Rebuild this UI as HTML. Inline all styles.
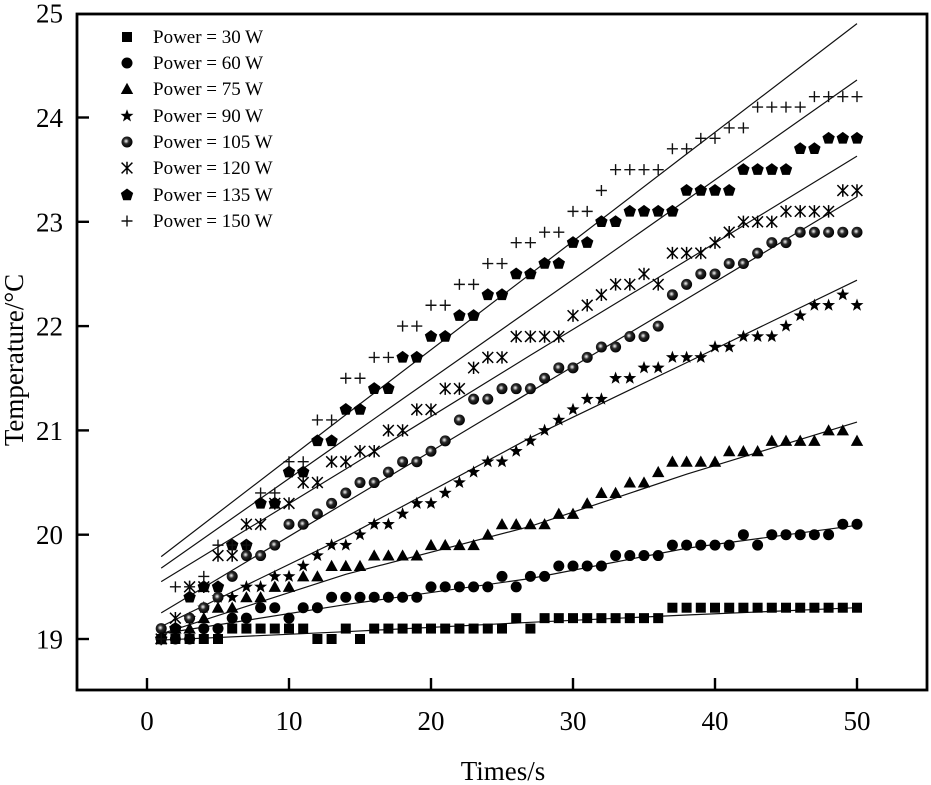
<!DOCTYPE html>
<html lang="en">
<head>
<meta charset="utf-8">
<title>Temperature vs Time</title>
<style>
html,body{margin:0;padding:0;background:#fff;width:931px;height:785px;overflow:hidden}
svg{display:block;filter:blur(0.35px)}
text{font-family:"Liberation Serif","Times New Roman",serif;fill:#000}
</style>
</head>
<body>
<svg id="chart" xmlns="http://www.w3.org/2000/svg" width="931" height="785" viewBox="0 0 931 785">
<defs>
<radialGradient id="ball" cx="42%" cy="42%" r="58%" fx="42%" fy="42%">
<stop offset="0%" stop-color="#f4f4f4"/>
<stop offset="18%" stop-color="#a8a8a8"/>
<stop offset="42%" stop-color="#2a2a2a"/>
<stop offset="100%" stop-color="#000"/>
</radialGradient>
</defs>
</svg>
<script>
const times = [1,2,3,4,5,6,7,8,9,10,11,12,13,14,15,16,17,18,19,20,21,22,23,24,25,26,27,28,29,30,31,32,33,34,35,36,37,38,39,40,41,42,43,44,45,46,47,48,49,50];
const seriesLabels = ["Power = 30 W","Power = 60 W","Power = 75 W","Power = 90 W","Power = 105 W","Power = 120 W","Power = 135 W","Power = 150 W"];
const seriesShapes = ["square","circle","triangle","star","ball","asterisk","pentagon","plus"];
const power30 = [19,19,19,19,19,19.1,19.1,19.1,19.1,19.1,19.1,19,19,19.1,19,19.1,19.1,19.1,19.1,19.1,19.1,19.1,19.1,19.1,19.1,19.2,19.1,19.2,19.2,19.2,19.2,19.2,19.2,19.2,19.2,19.2,19.3,19.3,19.3,19.3,19.3,19.3,19.3,19.3,19.3,19.3,19.3,19.3,19.3,19.3];
const power60 = [19,19,19,19.1,19.1,19.2,19.2,19.3,19.3,19.2,19.3,19.3,19.4,19.4,19.4,19.4,19.4,19.4,19.4,19.5,19.5,19.5,19.5,19.5,19.6,19.5,19.6,19.6,19.7,19.7,19.7,19.7,19.8,19.8,19.8,19.8,19.9,19.9,19.9,19.9,19.9,20,19.9,20,20,20,20,20,20.1,20.1];
const power75 = [19,19.1,19.1,19.2,19.3,19.3,19.4,19.4,19.5,19.5,19.6,19.6,19.7,19.7,19.7,19.8,19.8,19.8,19.8,19.9,19.9,19.9,19.9,20,20.1,20.1,20.1,20.1,20.2,20.2,20.3,20.4,20.4,20.5,20.5,20.6,20.7,20.7,20.7,20.7,20.8,20.8,20.8,20.9,20.9,20.9,20.9,21,21,20.9];
const power90 = [19,19.1,19.2,19.3,19.4,19.4,19.5,19.5,19.6,19.6,19.7,19.8,19.9,19.9,20,20.1,20.1,20.2,20.3,20.3,20.4,20.5,20.6,20.7,20.7,20.8,20.9,21,21.1,21.2,21.3,21.3,21.5,21.5,21.6,21.6,21.7,21.7,21.7,21.8,21.8,21.9,21.9,21.9,22,22.1,22.2,22.2,22.3,22.2];
const power105 = [19.1,19.1,19.2,19.3,19.4,19.6,19.8,19.8,19.9,20.1,20.1,20.2,20.3,20.4,20.5,20.5,20.6,20.7,20.7,20.8,20.9,21.1,21.3,21.3,21.4,21.4,21.4,21.5,21.6,21.6,21.7,21.8,21.8,21.9,21.9,22,22.3,22.4,22.5,22.5,22.6,22.6,22.7,22.8,22.8,22.9,22.9,22.9,22.9,22.9];
const power120 = [19,19.2,19.5,19.5,19.8,19.8,20.1,20.1,20.3,20.3,20.5,20.5,20.7,20.7,20.8,20.8,21,21,21.2,21.2,21.4,21.4,21.6,21.7,21.7,21.9,21.9,21.9,21.9,22.1,22.2,22.3,22.4,22.4,22.5,22.4,22.7,22.7,22.7,22.8,22.9,23,23,23,23.1,23.1,23.1,23.1,23.3,23.3];
const power135 = [19,19.1,19.4,19.5,19.5,19.9,19.9,20.3,20.3,20.6,20.6,20.9,20.9,21.2,21.2,21.4,21.4,21.7,21.7,21.9,21.9,22.1,22.1,22.3,22.3,22.5,22.5,22.6,22.6,22.8,22.8,23,23,23.1,23.1,23.1,23.1,23.3,23.3,23.3,23.3,23.5,23.5,23.5,23.5,23.7,23.7,23.8,23.8,23.8];
const power150 = [19,19.5,19.5,19.6,19.9,19.9,19.9,20.4,20.4,20.7,20.7,21.1,21.1,21.5,21.5,21.7,21.7,22,22,22.2,22.2,22.4,22.4,22.6,22.6,22.8,22.8,22.9,22.9,23.1,23.1,23.3,23.5,23.5,23.5,23.5,23.7,23.7,23.8,23.8,23.9,23.9,24.1,24.1,24.1,24.1,24.2,24.2,24.2,24.2];
const fitTimes = [1,14,27,38,50];
const fit30 = [18.99,19.07,19.16,19.23,19.3];
const fit60 = [19.05,19.33,19.58,19.87,20.09];
const fit75 = [19.05,19.62,20.08,20.58,21.08];
const fit90 = [19.12,19.98,20.93,21.65,22.44];
const fit105 = [19.25,20.31,21.37,22.26,23.24];
const fit120 = [19.55,20.63,21.72,22.63,23.63];
const fit135 = [19.68,20.92,22.16,23.21,24.36];
const fit150 = [19.79,21.15,22.5,23.65,24.9];
const xTicks = [0,10,20,30,40,50];
const yTicks = [19,20,21,22,23,24,25];
const xTitle = "Times/s";
const yTitle = "Temperature/°C";

const allSeries = [power30,power60,power75,power90,power105,power120,power135,power150];
const allFits = [fit30,fit60,fit75,fit90,fit105,fit120,fit135,fit150];
const svg = document.getElementById('chart');
const NS = 'http://www.w3.org/2000/svg';
function xScale(t){ return 147 + 14.2 * t; }
function yScale(v){ return 639 - 104.3 * (v - 19); }
function mk(tag, attrs, parent){
  const el = document.createElementNS(NS, tag);
  for (const k in attrs) el.setAttribute(k, attrs[k]);
  (parent || svg).appendChild(el);
  return el;
}
function starPts(cx, cy, R, r, n){
  const p = [];
  for (let i = 0; i < n * 2; i++){
    const a = -Math.PI / 2 + i * Math.PI / n;
    const q = i % 2 ? r : R;
    p.push((cx + q * Math.cos(a)).toFixed(2) + ',' + (cy + q * Math.sin(a)).toFixed(2));
  }
  return p.join(' ');
}
function polyPts(cx, cy, R, n){
  const p = [];
  for (let i = 0; i < n; i++){
    const a = -Math.PI / 2 + i * 2 * Math.PI / n;
    p.push((cx + R * Math.cos(a)).toFixed(2) + ',' + (cy + R * Math.sin(a)).toFixed(2));
  }
  return p.join(' ');
}
function drawMarker(shape, cx, cy, parent){
  const g = parent;
  if (shape === 'square') mk('rect', {x:cx-5,y:cy-5,width:10,height:10,fill:'#000'}, g);
  else if (shape === 'circle') mk('circle', {cx:cx,cy:cy,r:5.5,fill:'#000'}, g);
  else if (shape === 'triangle') mk('polygon', {points:(cx-6.2)+','+(cy+5)+' '+(cx+6.2)+','+(cy+5)+' '+cx+','+(cy-6.2),fill:'#000'}, g);
  else if (shape === 'star') mk('polygon', {points:starPts(cx, cy, 6.8, 2.8, 5),fill:'#000'}, g);
  else if (shape === 'ball') mk('circle', {cx:cx,cy:cy,r:5.5,fill:'url(#ball)'}, g);
  else if (shape === 'pentagon') mk('polygon', {points:polyPts(cx, cy, 6.5, 5),fill:'#000'}, g);
  else if (shape === 'plus'){
    mk('path', {d:'M'+(cx-5.5)+' '+cy+'H'+(cx+5.5)+'M'+cx+' '+(cy-5.5)+'V'+(cy+5.5),stroke:'#111','stroke-width':1.4,fill:'none'}, g);
  } else if (shape === 'asterisk'){
    const d = 5.4;
    mk('path', {d:'M'+cx+' '+(cy-6.2)+'V'+(cy+6.2)+'M'+(cx-d)+' '+(cy-d)+'L'+(cx+d)+' '+(cy+d)+'M'+(cx-d)+' '+(cy+d)+'L'+(cx+d)+' '+(cy-d),stroke:'#000','stroke-width':1.5,fill:'none'}, g);
  }
}

// frame
const frame = mk('rect', {x:77,y:14,width:850,height:676,fill:'none',stroke:'#000','stroke-width':2.8});



// ticks and tick labels
xTicks.forEach(function(t){
  const tick = mk('line', {x1:xScale(t),x2:xScale(t),y1:690,y2:678,stroke:'#000','stroke-width':2.4});
  
  
  const label = mk('text', {x:xScale(t),y:730,'text-anchor':'middle','font-size':27});
  label.textContent = t;
  
  
});
yTicks.forEach(function(v){
  if (v < 25){
    const tick = mk('line', {x1:77,x2:89,y1:yScale(v),y2:yScale(v),stroke:'#000','stroke-width':2.4});
    
    
  }
  const label = mk('text', {x:63,y:yScale(v)+9.5,'text-anchor':'end','font-size':27});
  label.textContent = v;
  
  
});

// axis titles
const xt = mk('text', {x:503,y:780,'text-anchor':'middle','font-size':27});
xt.textContent = xTitle;


const yt = mk('text', {x:0,y:0,'text-anchor':'middle','font-size':27,transform:'translate(23,360) rotate(-90)'});
yt.textContent = yTitle;



// fit lines
allFits.forEach(function(fit){
  const pts = fit.map(function(v, i){ return xScale(fitTimes[i]).toFixed(2) + ',' + yScale(v).toFixed(2); }).join(' ');
  const line = mk('polyline', {points:pts,fill:'none',stroke:'#111','stroke-width':1.2});
  
  
});

// series markers
allSeries.forEach(function(values, s){
  const g = mk('g', {});
  
  
  values.forEach(function(v, i){
    drawMarker(seriesShapes[s], xScale(times[i]), yScale(v), g);
  });
});

// legend
const legendRowY = [37,63,89,116,142,168,195,221];
seriesLabels.forEach(function(lbl, s){
  const g = mk('g', {});
  
  
  drawMarker(seriesShapes[s], 127, legendRowY[s], g);
  const t = mk('text', {x:153,y:legendRowY[s]+6,'font-size':19}, g);
  t.textContent = lbl;
});
</script>
</body>
</html>
